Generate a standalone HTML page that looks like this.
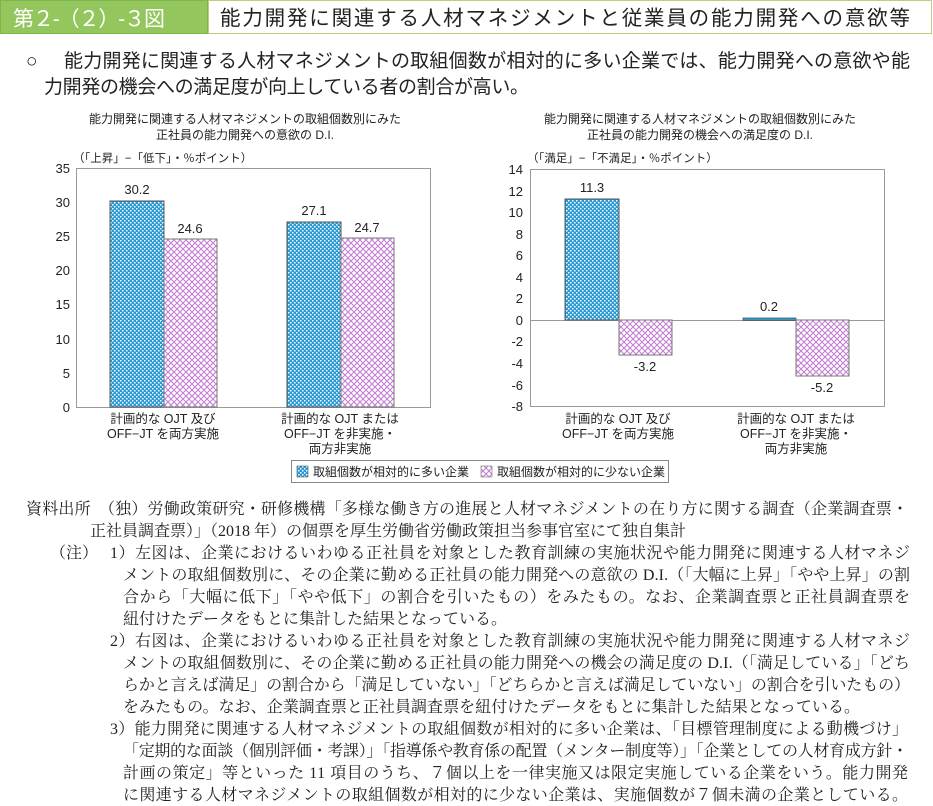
<!DOCTYPE html>
<html><head><meta charset="utf-8"><style>
html,body{margin:0;padding:0;background:#fff;}
svg{display:block;}
.g{font-family:"Liberation Sans","Noto Sans CJK JP",sans-serif;fill:#222;}
.s{font-family:"Liberation Serif","Noto Serif CJK SC",serif;fill:#222;font-size:16px;}
</style></head><body>
<svg width="933" height="806" viewBox="0 0 933 806" xmlns="http://www.w3.org/2000/svg">
<defs>
<pattern id="pb" width="4" height="4" patternUnits="userSpaceOnUse">
<rect width="4" height="4" fill="#2a9bd3"/>
<rect x="0" y="0" width="1.5" height="1.5" fill="#ffffff"/>
<rect x="2" y="2" width="1.5" height="1.5" fill="#ffffff"/>
</pattern>
<pattern id="pp" width="6" height="6" patternUnits="userSpaceOnUse">
<rect width="6" height="6" fill="#fff"/>
<path d="M0 0L6 6M6 0L0 6" stroke="#c27fd2" stroke-width="1.1"/>
</pattern>
</defs>
<rect x="0.5" y="0.5" width="207" height="33" fill="#93c65c" stroke="#7fb44a"/>
<text x="13" y="26" class="g" style="fill:#fff;font-size:21px;" textLength="152">第２-（２）-３図</text>
<rect x="208.5" y="0.5" width="723" height="33" fill="#fff" stroke="#b9cf7d"/>
<text x="220" y="25" class="g" style="font-size:20.5px;" textLength="690">能力開発に関連する人材マネジメントと従業員の能力開発への意欲等</text>
<text x="26" y="67" class="g" style="font-size:19px;">○</text>
<text x="64" y="67" class="g" style="font-size:19px;" textLength="846">能力開発に関連する人材マネジメントの取組個数が相対的に多い企業では、能力開発への意欲や能</text>
<text x="44" y="93" class="g" style="font-size:19px;" textLength="485">力開発の機会への満足度が向上している者の割合が高い。</text>
<text x="245" y="123" class="g" text-anchor="middle" style="font-size:12px;">能力開発に関連する人材マネジメントの取組個数別にみた</text>
<text x="245" y="139" class="g" text-anchor="middle" style="font-size:12px;">正社員の能力開発への意欲の D.I.</text>
<text x="73" y="162" class="g" style="font-size:11.5px;">（「上昇」−「低下」・％ポイント）</text>
<rect x="76.5" y="168.5" width="354" height="239" fill="#fff" stroke="#999"/>
<g class="g" style="font-size:13px;" text-anchor="end">
<text x="70" y="173">35</text><text x="70" y="207">30</text><text x="70" y="241">25</text><text x="70" y="275">20</text><text x="70" y="309">15</text><text x="70" y="344">10</text><text x="70" y="378">5</text><text x="70" y="412">0</text>
</g>
<rect x="110" y="201" width="54" height="206" fill="url(#pb)" stroke="#555" stroke-width="1"/>
<rect x="164" y="239" width="53" height="168" fill="url(#pp)" stroke="#777" stroke-width="1"/>
<rect x="287" y="222" width="54" height="185" fill="url(#pb)" stroke="#555" stroke-width="1"/>
<rect x="341" y="238" width="53" height="169" fill="url(#pp)" stroke="#777" stroke-width="1"/>
<g class="g" style="font-size:13px;" text-anchor="middle">
<text x="137" y="194">30.2</text><text x="190" y="233">24.6</text><text x="314" y="215">27.1</text><text x="367" y="232">24.7</text>
</g>
<g class="g" style="font-size:12.5px;" text-anchor="middle">
<text x="163" y="423">計画的な ОJT 及び</text><text x="163" y="438">OFF−JT を両方実施</text>
<text x="340" y="423">計画的な ОJT または</text><text x="340" y="438">OFF−JT を非実施・</text><text x="340" y="453">両方非実施</text>
</g>
<text x="700" y="123" class="g" text-anchor="middle" style="font-size:12px;">能力開発に関連する人材マネジメントの取組個数別にみた</text>
<text x="700" y="139" class="g" text-anchor="middle" style="font-size:12px;">正社員の能力開発の機会への満足度の D.I.</text>
<text x="527" y="162" class="g" style="font-size:11.5px;">（「満足」−「不満足」・％ポイント）</text>
<rect x="530.5" y="169.5" width="354" height="237" fill="#fff" stroke="#999"/>
<line x1="531" y1="320.5" x2="884" y2="320.5" stroke="#999"/>
<g class="g" style="font-size:13px;" text-anchor="end">
<text x="523" y="174">14</text><text x="523" y="196">12</text><text x="523" y="217">10</text><text x="523" y="239">8</text><text x="523" y="260">6</text><text x="523" y="282">4</text><text x="523" y="303">2</text><text x="523" y="325">0</text><text x="523" y="346">-2</text><text x="523" y="368">-4</text><text x="523" y="390">-6</text><text x="523" y="411">-8</text>
</g>
<rect x="565" y="199" width="54" height="121" fill="url(#pb)" stroke="#555" stroke-width="1"/>
<rect x="619" y="320" width="53" height="35" fill="url(#pp)" stroke="#777" stroke-width="1"/>
<rect x="743" y="318" width="53" height="2.5" fill="#2a9bd3" stroke="#555" stroke-width="0.8"/>
<rect x="796" y="320" width="53" height="56" fill="url(#pp)" stroke="#777" stroke-width="1"/>
<g class="g" style="font-size:13px;" text-anchor="middle">
<text x="592" y="192">11.3</text><text x="645" y="371">-3.2</text><text x="769" y="311">0.2</text><text x="822" y="392">-5.2</text>
</g>
<g class="g" style="font-size:12.5px;" text-anchor="middle">
<text x="618" y="423">計画的な ОJT 及び</text><text x="618" y="438">OFF−JT を両方実施</text>
<text x="796" y="423">計画的な ОJT または</text><text x="796" y="438">OFF−JT を非実施・</text><text x="796" y="453">両方非実施</text>
</g>
<rect x="291.5" y="460.5" width="377" height="22" fill="#fff" stroke="#888"/>
<rect x="297" y="466" width="11" height="11" fill="url(#pb)" stroke="#555" stroke-width="0.6"/>
<text x="313" y="476" class="g" style="font-size:12px;">取組個数が相対的に多い企業</text>
<rect x="481" y="466" width="11" height="11" fill="url(#pp)" stroke="#777" stroke-width="0.6"/>
<text x="497" y="476" class="g" style="font-size:12px;">取組個数が相対的に少ない企業</text>
<g class="s">
<text x="26" y="514" textLength="882">資料出所　（独）労働政策研究・研修機構「多様な働き方の進展と人材マネジメントの在り方に関する調査（企業調査票・</text>
<text x="90" y="536">正社員調査票）」（2018 年）の個票を厚生労働省労働政策担当参事官室にて独自集計</text>
<text x="50" y="558">（注）</text>
<text x="110" y="558" textLength="800">1）左図は、企業におけるいわゆる正社員を対象とした教育訓練の実施状況や能力開発に関連する人材マネジ</text>
<text x="123" y="580" textLength="787">メントの取組個数別に、その企業に勤める正社員の能力開発への意欲の D.I.（「大幅に上昇」「やや上昇」の割</text>
<text x="123" y="602" textLength="787">合から「大幅に低下」「やや低下」の割合を引いたもの）をみたもの。なお、企業調査票と正社員調査票を</text>
<text x="123" y="624">紐付けたデータをもとに集計した結果となっている。</text>
<text x="110" y="646" textLength="800">2）右図は、企業におけるいわゆる正社員を対象とした教育訓練の実施状況や能力開発に関連する人材マネジ</text>
<text x="123" y="668" textLength="787">メントの取組個数別に、その企業に勤める正社員の能力開発への機会の満足度の D.I.（「満足している」「どち</text>
<text x="123" y="690" textLength="787">らかと言えば満足」の割合から「満足していない」「どちらかと言えば満足していない」の割合を引いたもの）</text>
<text x="123" y="712" textLength="737">をみたもの。なお、企業調査票と正社員調査票を紐付けたデータをもとに集計した結果となっている。</text>
<text x="110" y="734" textLength="798">3）能力開発に関連する人材マネジメントの取組個数が相対的に多い企業は、「目標管理制度による動機づけ」</text>
<text x="123" y="756" textLength="785">「定期的な面談（個別評価・考課）」「指導係や教育係の配置（メンター制度等）」「企業としての人材育成方針・</text>
<text x="123" y="778" textLength="785">計画の策定」等といった 11 項目のうち、７個以上を一律実施又は限定実施している企業をいう。能力開発</text>
<text x="123" y="800" textLength="785">に関連する人材マネジメントの取組個数が相対的に少ない企業は、実施個数が７個未満の企業としている。</text>
</g>
</svg>
</body></html>
